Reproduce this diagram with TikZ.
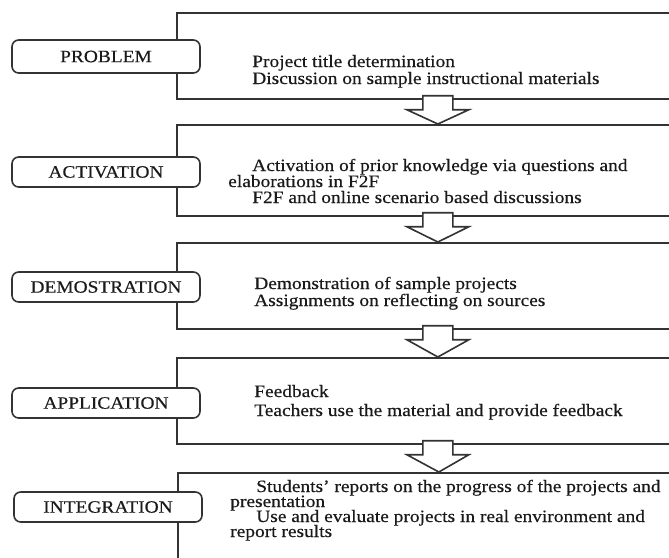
\documentclass[tikz,border=0pt]{standalone}
\usepackage{fontspec}
\setmainfont{Liberation Serif}[FakeStretch=1.12,FakeBold=0.4]
\usetikzlibrary{calc}
\definecolor{ink}{HTML}{1A1A1A}
\definecolor{edge}{HTML}{333333}
\begin{document}
\begin{tikzpicture}[x=0.75pt,y=-0.75pt,
  bigbox/.style={draw=edge, line width=1.3pt, anchor=north west, minimum width=391.5pt, inner sep=0pt},
  lbl/.style={draw=edge, line width=1.2pt, rounded corners=5pt, fill=white, minimum width=141pt, minimum height=22.5pt, inner sep=0pt, text=ink, font=\fontsize{13}{15}\selectfont},
  txt/.style={anchor=base west, inner sep=0pt, text=ink, font=\fontsize{13}{15}\selectfont},
  blockarrow/.style={draw=edge, line width=1.2pt, fill=white, line join=miter}]
\useasboundingbox (0,0) rectangle (669,558);
\clip (0,0) rectangle (669,558);
\fill[white] (0,0) rectangle (669,558);
% big boxes
\node[bigbox, minimum height=64.5pt] (b1) at (176,12) {};
\node[bigbox, minimum height=68.25pt] (b2) at (176,124) {};
\node[bigbox, minimum height=64.5pt] (b3) at (176,242) {};
\node[bigbox, minimum height=64.5pt] (b4) at (176,357) {};
\node[bigbox, minimum height=112.5pt] (b5) at (177,472) {};
% arrows
\foreach \u/\l in {b1/b2,b2/b3,b3/b4,b4/b5}{
  \draw[blockarrow] ($(\u.south)+(-15,-4)$) -- ($(\u.south)+(15,-4)$) -- ($(\u.south)+(15,10)$)
    -- ($(\u.south)+(31,10)$) -- (\l.north) -- ($(\u.south)+(-31,10)$) -- ($(\u.south)+(-15,10)$) -- cycle;
}
% labels
\node[lbl, minimum height=24.75pt] (l1) at (106,56.5) {PROBLEM};
\node[lbl] (l2) at (106,172) {ACTIVATION};
\node[lbl] (l3) at (106,287) {DEMOSTRATION};
\node[lbl] (l4) at (106,403) {APPLICATION};
\node[lbl] (l5) at (108,507) {INTEGRATION};
% texts
\node[txt] (t1a) at (252,67) {Project title determination};
\node[txt] (t1b) at (252,84) {Discussion on sample instructional materials};
\node[txt] (t2a) at (252,171) {Activation of prior knowledge via questions and};
\node[txt] (t2b) at (228,187) {elaborations in F2F};
\node[txt] (t2c) at (252,203) {F2F and online scenario based discussions};
\node[txt] (t3a) at (254,289) {Demonstration of sample projects};
\node[txt] (t3b) at (254,306) {Assignments on reflecting on sources};
\node[txt] (t4a) at (254,397) {Feedback};
\node[txt] (t4b) at (254,416) {Teachers use the material and provide feedback};
\node[txt] (t5a) at (256,492) {Students' reports on the progress of the projects and};
\node[txt] (t5b) at (230,507) {presentation};
\node[txt] (t5c) at (256,522) {Use and evaluate projects in real environment and};
\node[txt] (t5d) at (230,537) {report results};
\end{tikzpicture}
\end{document}
